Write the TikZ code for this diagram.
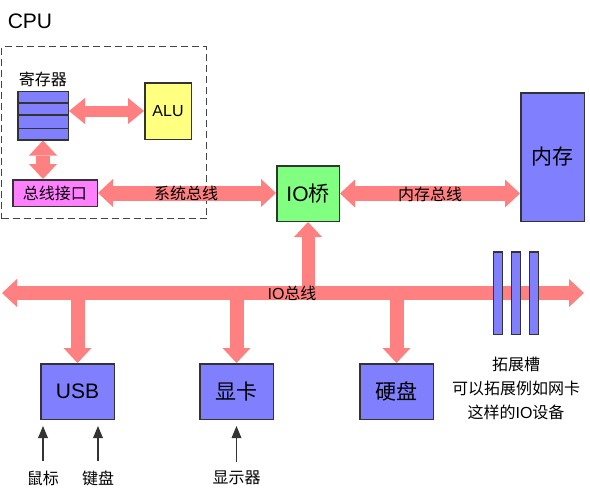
\documentclass[tikz,border=0pt]{standalone}
\usepackage{fontspec}
\setmainfont{Liberation Sans}
\newfontfamily\cjk{Noto Sans CJK SC}
\newcommand{\zhtext}[1]{{\cjk #1}}
\usetikzlibrary{arrows.meta,calc}
\definecolor{arrowred}{HTML}{FF8080}
\definecolor{boxblue}{HTML}{8080FF}
\definecolor{boxyellow}{HTML}{FFFF80}
\definecolor{boxpink}{HTML}{FF80FF}
\definecolor{boxgreen}{HTML}{80FF80}
\definecolor{edgegray}{HTML}{333333}
\definecolor{framegray}{HTML}{444444}
\begin{document}
\begin{tikzpicture}[x=1pt,y=-1pt,
  box/.style={draw=edgegray, line width=1.5pt, inner sep=0pt, font=\fontsize{21}{21}\selectfont},
  smallbox/.style={box, font=\fontsize{16}{16}\selectfont},
  lbl/.style={inner sep=0pt, font=\fontsize{16}{16}\selectfont},
  busline/.style={draw=arrowred, line width=#1},
  bighead/.style={>={Triangle[length=15pt,width=28pt,line width=0pt]}},
  smallhead/.style={>={Triangle[length=16pt,width=26pt,line width=0pt]}},
  thinarrow/.style={draw=edgegray, line width=1.5pt, ->, >={Triangle[length=12pt,width=10pt,line width=0pt]}, shorten <=9pt, shorten >=6pt},
]
\useasboundingbox (0,0) rectangle (590,498);

% CPU frame
\node[font=\fontsize{21}{21}\selectfont, inner sep=0pt] (cpu) at (30,21) {CPU};
\node[draw=framegray, line width=1.5pt, dash pattern=on 7pt off 4pt, minimum width=205pt, minimum height=172pt, inner sep=0pt] (cpuframe) at (104,132.5) {};

% boxes
\node[lbl] (reglabel) at (43,79) {\zhtext{寄存器}};
\node[box, fill=boxblue, minimum width=50.5pt, minimum height=48.5pt] (reg) at (43,115.5) {};
\foreach \f in {0.245,0.49,0.755}
  \draw[edgegray, line width=1.5pt] ($(reg.north west)!\f!(reg.south west)$) -- ($(reg.north east)!\f!(reg.south east)$);
\node[smallbox, fill=boxyellow, minimum width=46.5pt, minimum height=56.5pt] (alu) at (168,111) {ALU};
\node[smallbox, fill=boxpink, minimum width=84.5pt, minimum height=26.5pt] (bif) at (55,193) {\zhtext{总线接口}};
\node[box, fill=boxgreen, minimum width=62.5pt, minimum height=55.5pt] (iob) at (308,193.5) {IO\zhtext{桥}};
\node[box, fill=boxblue, minimum width=63.5pt, minimum height=128.5pt] (mem) at (552.5,157) {\zhtext{内存}};
\node[box, fill=boxblue, minimum width=73.5pt, minimum height=55.5pt] (usb) at (77.5,391.5) {USB};
\node[box, fill=boxblue, minimum width=73.5pt, minimum height=55.5pt] (gpu) at (236.5,391.5) {\zhtext{显卡}};
\node[box, fill=boxblue, minimum width=73.5pt, minimum height=55.5pt] (hdd) at (396.5,391.5) {\zhtext{硬盘}};

% CPU internal arrows
\draw[busline=11pt, smallhead, <->] (reg.east |- alu.west) -- (alu.west);
\draw[busline=14pt, bighead, <->] (reg.south) -- (reg.south |- bif.north);

% system and memory buses
\draw[busline=15pt, bighead, <->] (bif.east) -- (bif.east -| iob.west);
\draw[busline=15pt, bighead, <->] (iob.east) -- (iob.east -| mem.west);
\node[lbl] (syslabel) at (186,193) {\zhtext{系统总线}};
\node[lbl] (memlabel) at (430,194) {\zhtext{内存总线}};

% IO bus
\coordinate (busL) at (2,293);
\coordinate (busR) at (584,293);
\draw[busline=14pt, bighead, <->] (busL) -- (busR);
\draw[busline=13pt, bighead, ->] (iob.south |- busL) -- (iob.south);
\draw[busline=14pt, bighead, ->] (usb.north |- busL) -- (usb.north);
\draw[busline=14pt, bighead, ->] (gpu.north |- busL) -- (gpu.north);
\draw[busline=14pt, bighead, ->] (hdd.north |- busL) -- (hdd.north);
\node[lbl] (iolabel) at (292,293) {IO\zhtext{总线}};

% expansion slots
\node[box, fill=boxblue, minimum width=9pt, minimum height=82.5pt] (slot1) at (498,293) {};
\node[box, fill=boxblue, minimum width=9pt, minimum height=82.5pt] (slot2) at (516,293) {};
\node[box, fill=boxblue, minimum width=9pt, minimum height=82.5pt] (slot3) at (534,293) {};
\node[lbl, align=center, font=\fontsize{16}{24}\selectfont] (slottext) at (516,388)
  {\zhtext{拓展槽}\\\zhtext{可以拓展例如网卡}\\\zhtext{这样的}IO\zhtext{设备}};

% peripherals
\node[lbl] (mouse) at (43,478) {\zhtext{鼠标}};
\node[lbl] (kbd) at (98,478) {\zhtext{键盘}};
\node[lbl] (disp) at (236.5,478) {\zhtext{显示器}};
\draw[thinarrow] (mouse.north) -- (mouse.north |- usb.south);
\draw[thinarrow] (kbd.north) -- (kbd.north |- usb.south);
\draw[thinarrow] (disp.north) -- (disp.north |- gpu.south);
\end{tikzpicture}
\end{document}
